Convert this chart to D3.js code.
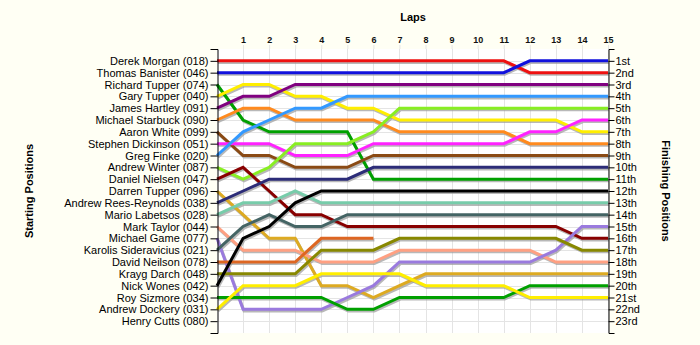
<!DOCTYPE html>
<html>
<head>
<meta charset="utf-8">
<script src="https://cdn.jsdelivr.net/npm/d3@7"></script>
<style>
  html, body { margin: 0; padding: 0; background: #fffff4; }
  svg { display: block; font-family: "Liberation Sans", Arial, sans-serif; }
  .name-axis text, .finish-axis text { font-size: 11px; fill: #000; }
  .lap-axis text { font-size: 9px; font-weight: bold; fill: #111; }
  .title { font-size: 11px; font-weight: bold; fill: #000; }
</style>
</head>
<body>
<svg id="chart" width="700" height="345"></svg>
<script>
// Drivers in starting order
const drivers = [
  "Derek Morgan (018)", "Thomas Banister (046)", "Richard Tupper (074)", "Gary Tupper (040)",
  "James Hartley (091)", "Michael Starbuck (090)", "Aaron White (099)", "Stephen Dickinson (051)",
  "Greg Finke (020)", "Andrew Winter (087)", "Daniel Nielsen (047)", "Darren Tupper (096)",
  "Andrew Rees-Reynolds (038)", "Mario Labetsos (028)", "Mark Taylor (044)", "Michael Game (077)",
  "Karolis Sideravicius (021)", "David Neilson (078)", "Krayg Darch (048)", "Nick Wones (042)",
  "Roy Sizmore (034)", "Andrew Dockery (031)", "Henry Cutts (080)"
];

const driverColors = [
  "#ee1111", "#1111dd", "#00a000", "#ffee00",
  "#800080", "#ff8a1e", "#8a4a14", "#ff22ff",
  "#3399ff", "#88ee22", "#880000", "#ddaa22",
  "#2c2c78", "#77ccaa", "#ffa082", "#9a7ade",
  "#446464", "#dd6622", "#888800", "#000000",
  "#00a000", "#ffee00", "#ffffff"
];

const laps = d3.range(0, 16);
const lapLabels = d3.range(1, 16);
const finishLabels = ["1st","2nd","3rd","4th","5th","6th","7th","8th","9th","10th","11th","12th",
  "13th","14th","15th","16th","17th","18th","19th","20th","21st","22nd","23rd"];

// Race position of each driver at the end of laps 0..15 (null = retired)
const posMorgan     = [1,1,1,1,1,1,1,1,1,1,1,1,2,2,2,2];
const posBanister   = [2,2,2,2,2,2,2,2,2,2,2,2,1,1,1,1];
const posRTupper    = [3,6,7,7,7,7,11,11,11,11,11,11,11,11,11,11];
const posGTupper    = [4,3,3,4,4,5,5,6,6,6,6,6,6,6,7,7];
const posHartley    = [5,4,4,3,3,3,3,3,3,3,3,3,3,3,3,3];
const posStarbuck   = [6,5,5,6,6,6,6,7,7,7,7,7,8,8,8,8];
const posWhite      = [7,9,9,10,10,10,9,9,9,9,9,9,9,9,9,9];
const posDickinson  = [8,8,8,9,9,9,8,8,8,8,8,8,7,7,6,6];
const posFinke      = [9,7,6,5,5,4,4,4,4,4,4,4,4,4,4,4];
const posWinter     = [10,11,10,8,8,8,7,5,5,5,5,5,5,5,5,5];
const posNielsen    = [11,10,12,14,14,15,15,15,15,15,15,15,15,15,16,16];
const posDTupper    = [12,14,16,16,20,20,21,20,19,19,19,19,19,19,19,19];
const posReesReyn   = [13,12,11,11,11,11,10,10,10,10,10,10,10,10,10,10];
const posLabetsos   = [14,13,13,12,13,13,13,13,13,13,13,13,13,13,13,13];
const posTaylor     = [15,17,17,17,18,18,18,17,17,17,17,17,17,18,18,18];
const posGame       = [16,22,22,22,22,21,20,18,18,18,18,18,18,17,15,15];
const posSideravic  = [17,15,14,15,15,14,14,14,14,14,14,14,14,14,14,14];
const posNeilson    = [18,18,18,18,16,16,16,null,null,null,null,null,null,null,null,null];
const posDarch      = [19,19,19,19,17,17,17,16,16,16,16,16,16,16,17,17];
const posWones      = [20,16,15,13,12,12,12,12,12,12,12,12,12,12,12,12];
const posSizmore    = [21,21,21,21,21,22,22,21,21,21,21,21,20,20,20,20];
const posDockery    = [22,20,20,20,19,19,19,19,20,20,20,20,21,21,21,21];
const posCutts      = [null,null,null,null,null,null,null,null,null,null,null,null,null,null,null,null];

const positions = [
  posMorgan, posBanister, posRTupper, posGTupper, posHartley, posStarbuck, posWhite,
  posDickinson, posFinke, posWinter, posNielsen, posDTupper, posReesReyn, posLabetsos,
  posTaylor, posGame, posSideravic, posNeilson, posDarch, posWones, posSizmore,
  posDockery, posCutts
];

const svg = d3.select("#chart");
const plotLeft = 217, plotRight = 608, plotTop = 49, plotBottom = 333;

const x = d3.scaleLinear().domain([0, 15]).range([plotLeft, plotRight]);
const y = d3.scaleLinear().domain([0, 24]).range([plotTop, plotBottom]);
const posTicks = d3.range(1, 24);

// plot background
svg.append("rect")
  .attr("x", plotLeft).attr("y", plotTop)
  .attr("width", plotRight - plotLeft).attr("height", plotBottom - plotTop)
  .attr("fill", "#ffffff");

// grid
const grid = svg.append("g").attr("stroke", "#e4e4e4").attr("stroke-width", 1);
grid.selectAll("line.v").data(lapLabels).join("line").attr("class", "v")
  .attr("x1", d => Math.round(x(d)) + 0.5).attr("x2", d => Math.round(x(d)) + 0.5)
  .attr("y1", plotTop).attr("y2", plotBottom);
grid.selectAll("line.h").data(posTicks).join("line").attr("class", "h")
  .attr("x1", plotLeft).attr("x2", plotRight)
  .attr("y1", d => Math.round(y(d)) + 0.5).attr("y2", d => Math.round(y(d)) + 0.5);

// lap axis along the top
const lapAxis = svg.append("g")
  .attr("class", "lap-axis")
  .attr("transform", `translate(0,${plotTop})`)
  .call(d3.axisTop(x).tickValues(lapLabels).tickSize(4).tickPadding(2).tickFormat(d3.format("d")));
lapAxis.select(".domain").remove();
lapAxis.selectAll(".tick line").attr("stroke", "#e4e4e4");

// lap lines
const line = d3.line()
  .defined(d => d.p != null)
  .x(d => x(d.lap))
  .y(d => y(d.p));

const series = positions.map((arr, i) => ({
  color: driverColors[i],
  pts: laps.map(l => ({ lap: l, p: arr[l] }))
})).filter(s => s.pts.some(d => d.p != null));

svg.append("g")
  .attr("transform", "translate(1,1.6)")
  .selectAll("path").data(series).join("path")
  .attr("d", d => line(d.pts))
  .attr("fill", "none")
  .attr("stroke", "#9a9a9a")
  .attr("stroke-opacity", 0.7)
  .attr("stroke-width", 3);

svg.append("g")
  .selectAll("path").data(series).join("path")
  .attr("d", d => line(d.pts))
  .attr("fill", "none")
  .attr("stroke", d => d.color)
  .attr("stroke-width", 3)
  .attr("stroke-linejoin", "miter");

// starting positions axis
svg.append("g")
  .attr("class", "name-axis")
  .attr("transform", `translate(${plotLeft + 0.5},0)`)
  .call(d3.axisLeft(y).tickValues(posTicks).tickSize(7).tickSizeOuter(7).tickPadding(2)
    .tickFormat(d => drivers[d - 1]))
  .call(g => g.selectAll("path, line").attr("stroke", "#000"));

// finishing positions axis
svg.append("g")
  .attr("class", "finish-axis")
  .attr("transform", `translate(${plotRight + 0.5},0)`)
  .call(d3.axisRight(y).tickValues(posTicks).tickSize(6).tickSizeOuter(6).tickPadding(1)
    .tickFormat(d => finishLabels[d - 1]))
  .call(g => g.selectAll("path, line").attr("stroke", "#000"));

// titles
svg.append("text").attr("class", "title")
  .attr("x", 413).attr("y", 21).attr("text-anchor", "middle").text("Laps");
svg.append("text").attr("class", "title")
  .attr("transform", "translate(33,191) rotate(-90)")
  .attr("text-anchor", "middle").text("Starting Positions");
svg.append("text").attr("class", "title")
  .attr("transform", "translate(662,191) rotate(90)")
  .attr("text-anchor", "middle").text("Finishing Positions");
</script>
</body>
</html>
